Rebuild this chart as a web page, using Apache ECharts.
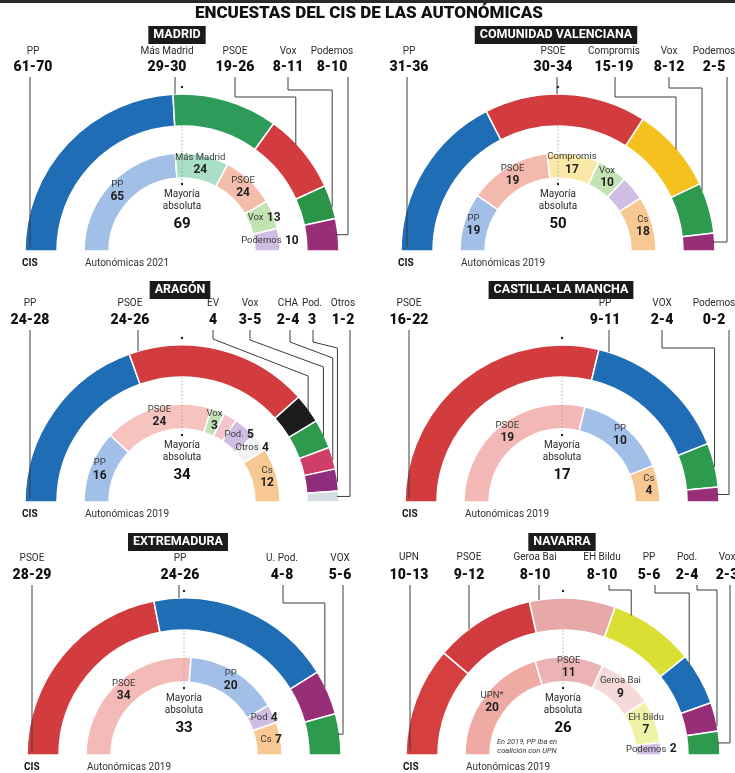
<!DOCTYPE html>
<html>
<head>
<meta charset="utf-8">
<script src="https://cdn.jsdelivr.net/npm/echarts@6/dist/echarts.min.js"></script>
<style>
  html, body { margin: 0; padding: 0; background: #fff; }
  #chart { width: 735px; height: 773px; }
</style>
</head>
<body>
<div id="chart"></div>
<script>
// ---- data ----
// Madrid
const madridParties = ['PP', 'Más Madrid', 'PSOE', 'Vox', 'Podemos'];
const madridLow = [61, 29, 19, 8, 8];
const madridHigh = [70, 30, 26, 11, 10];
const madridPrevParties = ['PP', 'Más Madrid', 'PSOE', 'Vox', 'Podemos'];
const madridPrevSeats = [65, 24, 24, 13, 10];
const madridMajority = 69;

// Comunidad Valenciana
const valenciaParties = ['PP', 'PSOE', 'Compromís', 'Vox', 'Podemos'];
const valenciaLow = [31, 30, 15, 8, 2];
const valenciaHigh = [36, 34, 19, 12, 5];
const valenciaPrevParties = ['PP', 'PSOE', 'Compromis', 'Vox', 'Pod.', 'Cs'];
const valenciaPrevSeats = [19, 27, 17, 10, 8, 18];
const valenciaPrevPrinted = [19, 19, 17, 10, 8, 18]; // PSOE label is printed as 19
const valenciaMajority = 50;

// Aragón
const aragonParties = ['PP', 'PSOE', 'EV', 'Vox', 'CHA', 'Pod.', 'Otros'];
const aragonLow = [24, 24, 4, 3, 2, 3, 1];
const aragonHigh = [28, 26, 4, 5, 4, 3, 2];
const aragonPrevParties = ['PP', 'PSOE', 'Vox', 'CHA', 'Pod.', 'Otros', 'Cs'];
const aragonPrevSeats = [16, 24, 3, 3, 5, 4, 12];
const aragonMajority = 34;

// Castilla-La Mancha
const clmParties = ['PSOE', 'PP', 'VOX', 'Podemos'];
const clmLow = [16, 9, 2, 0];
const clmHigh = [22, 11, 4, 2];
const clmPrevParties = ['PSOE', 'PP', 'Cs'];
const clmPrevSeats = [19, 10, 4];
const clmMajority = 17;

// Extremadura
const extParties = ['PSOE', 'PP', 'U. Pod.', 'VOX'];
const extLow = [28, 24, 4, 5];
const extHigh = [29, 26, 8, 6];
const extPrevParties = ['PSOE', 'PP', 'Pod', 'Cs'];
const extPrevSeats = [34, 20, 4, 7];
const extMajority = 33;

// Navarra
const navParties = ['UPN', 'PSOE', 'Geroa Bai', 'EH Bildu', 'PP', 'Pod.', 'Vox'];
const navLow = [10, 9, 8, 8, 5, 2, 2];
const navHigh = [13, 12, 10, 10, 6, 4, 3];
const navPrevParties = ['UPN*', 'PSOE', 'Geroa Bai', 'EH Bildu', 'Podemos'];
const navPrevSeats = [20, 11, 9, 7, 2];
const navMajority = 26;

// ---- layout and styles ----
const FONT = 'Roboto, "Noto Sans", sans-serif';
const LINE = '#3c3c3c';
const R_OUT = [125, 157];
const R_IN = [73, 98];

const BLUE = '#1f6db4', RED = '#d23c3f', GREEN = '#2d9a4e', PURPLE = '#982d78';
const L_BLUE = '#a2c0e7', L_GREEN = '#c2e3b3', L_PURPLE = '#d0bde3', L_ORANGE = '#f8c892';

const panels = [
  {
    title: 'MADRID', cx: 182, cy: 251, titleX: 177, titleY: 35, nameY: 51, rangeY: 67,
    parties: madridParties, low: madridLow, high: madridHigh,
    colors: [BLUE, '#2e9b5b', RED, '#2b9446', PURPLE],
    prevParties: madridPrevParties, prevSeats: madridPrevSeats, prevPrinted: madridPrevSeats,
    prevColors: [L_BLUE, '#a9dfc6', '#f4bcaa', L_GREEN, L_PURPLE],
    prevInline: [0, 0, 0, 1, 1],
    majority: madridMajority, prevLabel: 'Autonómicas 2021',
    labelX: [33, 167, 235, 288, 332],
    lineX: [30, 175, 235, 288, 348],
    modes: ['down', 'v', 'elbow', 'elbow', 'end'],
    elbow: [0, 0, 97, 90, 0],
    frac: [0.5, 0.5, 0.36, 0.6, 0.5]
  },
  {
    title: 'COMUNIDAD VALENCIANA', cx: 558, cy: 251, titleX: 556, titleY: 35, nameY: 51, rangeY: 67,
    parties: valenciaParties, low: valenciaLow, high: valenciaHigh,
    colors: [BLUE, RED, '#f5c11f', GREEN, PURPLE],
    prevParties: valenciaPrevParties, prevSeats: valenciaPrevSeats, prevPrinted: valenciaPrevPrinted,
    prevColors: [L_BLUE, '#f4b9ae', '#fbe8a6', L_GREEN, L_PURPLE, L_ORANGE],
    prevInline: [0, 0, 0, 0, 1, 0],
    majority: valenciaMajority, prevLabel: 'Autonómicas 2019',
    labelX: [409, 553, 614, 669, 714],
    lineX: [407, 557, 615, 669, 727],
    modes: ['down', 'v', 'elbow', 'elbow', 'end'],
    elbow: [0, 0, 97, 88, 0],
    frac: [0.5, 0.5, 0.5, 0.1, 0.5]
  },
  {
    title: 'ARAGÓN', cx: 182, cy: 502, titleX: 180, titleY: 290, nameY: 303, rangeY: 320,
    parties: aragonParties, low: aragonLow, high: aragonHigh,
    colors: [BLUE, RED, '#1c1c1c', GREEN, '#cf3e6b', '#8f2d7c', '#d6dce3'],
    prevParties: aragonPrevParties, prevSeats: aragonPrevSeats, prevPrinted: aragonPrevSeats,
    prevColors: [L_BLUE, '#f6c3bf', L_GREEN, '#f5c3cb', L_PURPLE, '#f1f3f5', L_ORANGE],
    prevInline: [0, 0, 0, 1, 1, 1, 0],
    majority: aragonMajority, prevLabel: 'Autonómicas 2019',
    labelX: [30, 130, 213, 250, 288, 312, 343],
    lineX: [30, 138, 213, 250, 290, 313, 350],
    modes: ['down', 'v', 'elbow', 'elbow', 'elbow', 'elbow', 'end'],
    elbow: [0, 0, [339, 376], [340, 367], [342, 358], [342, 348], 0],
    frac: [0.5, 0.5, 0.5, 0.5, 0.5, 0.5, 0.5]
  },
  {
    title: 'CASTILLA-LA MANCHA', cx: 562, cy: 502, titleX: 561, titleY: 290, nameY: 303, rangeY: 320,
    parties: clmParties, low: clmLow, high: clmHigh,
    colors: [RED, BLUE, GREEN, PURPLE],
    prevParties: clmPrevParties, prevSeats: clmPrevSeats, prevPrinted: clmPrevSeats,
    prevColors: ['#f3b8b5', L_BLUE, L_ORANGE],
    prevInline: [0, 0, 0],
    majority: clmMajority, prevLabel: 'Autonómicas 2019',
    labelX: [409, 605, 662, 714],
    lineX: [409, 609, 662, 729],
    modes: ['down', 'v', 'elbow', 'end'],
    elbow: [0, 0, 348, 0],
    frac: [0.5, 0.5, 0.5, 0.5]
  },
  {
    title: 'EXTREMADURA', cx: 184, cy: 755, titleX: 178, titleY: 542, nameY: 558, rangeY: 575,
    parties: extParties, low: extLow, high: extHigh,
    colors: [RED, BLUE, PURPLE, GREEN],
    prevParties: extPrevParties, prevSeats: extPrevSeats, prevPrinted: extPrevSeats,
    prevColors: ['#f3bab7', L_BLUE, L_PURPLE, L_ORANGE],
    prevInline: [0, 0, 1, 1],
    majority: extMajority, prevLabel: 'Autonómicas 2019',
    labelX: [32, 180, 282, 340],
    lineX: [32, 179, 283, 343],
    modes: ['down', 'v', 'elbow', 'end'],
    elbow: [0, 0, 603, 0],
    frac: [0.5, 0.5, 0.34, 0.5]
  },
  {
    title: 'NAVARRA', cx: 563, cy: 755, titleX: 562, titleY: 542, nameY: 557, rangeY: 575,
    parties: navParties, low: navLow, high: navHigh,
    colors: ['#d63f40', '#cf3b3e', '#e7a8a8', '#dadf33', BLUE, PURPLE, GREEN],
    prevParties: navPrevParties, prevSeats: navPrevSeats, prevPrinted: navPrevSeats,
    prevColors: ['#f0aaa4', '#ebb3b3', '#f6d9d9', '#eef3a8', L_PURPLE],
    prevInline: [0, 0, 0, 0, 1],
    majority: navMajority, prevLabel: 'Autonómicas 2019',
    labelX: [409, 469, 535, 602, 649, 687, 727],
    lineX: [410, 469, 539, 609, 655, 697, 730],
    modes: ['down', 'v', 'v', 'elbow', 'elbow', 'elbow', 'end'],
    elbow: [0, 0, 0, 590, 593, 590, 0],
    frac: [0.5, 0.5, 0.5, 0.2, 0.12, 0.77, 0.5],
    note: ['En 2019, PP iba en', 'coalición con UPN']
  }
];

const chart = echarts.init(document.getElementById('chart'));
const series = [];
const graphics = [];

function rangeText(lo, hi) {
  return lo === hi ? String(lo) : lo + '-' + hi;
}

// point on the outer edge of the outer ring, part way through segment i
function arcPoint(p, values, i, frac) {
  const sum = values.reduce((a, b) => a + b, 0);
  let cum = 0;
  for (let k = 0; k < i; k++) cum += values[k];
  const fromLeft = 180 * (cum + values[i] * frac) / sum;
  const th = (180 - fromLeft) * Math.PI / 180;
  return [p.cx + R_OUT[1] * Math.cos(th), p.cy - R_OUT[1] * Math.sin(th)];
}

function text(x, y, str, font, color, align, extra) {
  graphics.push(Object.assign({
    type: 'text', silent: true, z: 20,
    style: {
      x: x, y: y, text: str, font: font, fill: color || '#222',
      align: align || 'center', verticalAlign: 'middle',
      textAlign: align || 'center', textVerticalAlign: 'middle'
    }
  }, extra || {}));
}

panels.forEach(p => {
  // CIS poll: midpoint of each range
  const mids = p.low.map((lo, i) => (lo + p.high[i]) / 2);

  series.push({
    type: 'pie', center: [p.cx, p.cy], radius: R_OUT,
    startAngle: 180, endAngle: 0, clockwise: true,
    silent: true, animation: false,
    label: { show: false }, labelLine: { show: false },
    itemStyle: { borderColor: '#fff', borderWidth: 1.5 },
    data: p.parties.map((name, i) => ({ name: name, value: mids[i], itemStyle: { color: p.colors[i] } }))
  });

  series.push({
    type: 'pie', center: [p.cx, p.cy], radius: R_IN,
    startAngle: 180, endAngle: 0, clockwise: true,
    silent: true, animation: false,
    labelLine: { show: false },
    itemStyle: { borderColor: '#fff', borderWidth: 1.5 },
    label: {
      show: true, position: 'inside', color: '#222', textBorderWidth: 0,
      lineHeight: 12,
      formatter: prm => {
        const d = prm.data;
        return d.inline ? '{n|' + d.name + '} {v|' + d.printed + '}' : '{n|' + d.name + '}\n{v|' + d.printed + '}';
      },
      rich: {
        n: { fontSize: 9.5, color: '#3a3a3a', fontFamily: FONT, lineHeight: 12 },
        v: { fontSize: 12, fontWeight: 'bold', color: '#222', fontFamily: FONT, lineHeight: 13 }
      }
    },
    data: p.prevParties.map((name, i) => ({
      name: name, value: p.prevSeats[i], printed: p.prevPrinted[i], inline: p.prevInline[i],
      itemStyle: { color: p.prevColors[i] }
    }))
  });

  // region name box
  text(p.titleX, p.titleY, p.title, 'bold 12px ' + FONT, '#fff', 'center', {
    style: {
      x: p.titleX, y: p.titleY, text: p.title, font: 'bold 12.5px ' + FONT, fill: '#fff',
      align: 'center', verticalAlign: 'middle', textAlign: 'center', textVerticalAlign: 'middle',
      backgroundColor: '#1b1b1b', padding: [3, 5, 2, 5]
    }
  });

  // party names, ranges and leader lines
  p.parties.forEach((name, i) => {
    text(p.labelX[i], p.nameY, name, '10px ' + FONT, '#2a2a2a');
    text(p.labelX[i], p.rangeY, rangeText(p.low[i], p.high[i]), '900 14px ' + FONT, '#111');

    const lx = p.lineX[i];
    const y0 = p.rangeY + 10;
    const R = R_OUT[1];
    let pts;
    if (p.modes[i] === 'down') {
      pts = [[lx, y0], [lx, p.cy - 4]];
    } else if (p.modes[i] === 'v') {
      const dx = lx - p.cx;
      pts = [[lx, y0], [lx, p.cy - Math.sqrt(R * R - dx * dx)]];
    } else {
      const a = arcPoint(p, mids, i, p.frac[i]);
      if (p.modes[i] === 'end') {
        pts = [[lx, y0], [lx, a[1]], [a[0] - 2, a[1]]];
      } else {
        const e = p.elbow[i];
        const e1 = Array.isArray(e) ? e[0] : e;
        const e2 = Array.isArray(e) ? e[1] : e;
        pts = [[lx, y0], [lx, e1], [a[0], e2], [a[0], a[1] + 2]];
      }
    }
    graphics.push({
      type: 'polyline', silent: true, z: 15,
      shape: { points: pts },
      style: { stroke: LINE, lineWidth: 1, fill: null }
    });
  });

  // majority marker
  graphics.push({
    type: 'circle', silent: true, z: 15,
    shape: { cx: p.cx, cy: p.cy - 164, r: 1.2 }, style: { fill: '#222' }
  });
  graphics.push({
    type: 'line', silent: true, z: 15,
    shape: { x1: p.cx, y1: p.cy - R_OUT[0], x2: p.cx, y2: p.cy - 70 },
    style: { stroke: '#9a9a9a', lineWidth: 0.8, lineDash: [1.5, 2] }
  });
  graphics.push({
    type: 'circle', silent: true, z: 15,
    shape: { cx: p.cx, cy: p.cy - 67, r: 1.2 }, style: { fill: '#222' }
  });
  text(p.cx, p.cy - 57, 'Mayoría', '10px ' + FONT, '#2a2a2a');
  text(p.cx, p.cy - 45, 'absoluta', '10px ' + FONT, '#2a2a2a');
  text(p.cx, p.cy - 27, String(p.majority), 'bold 15px ' + FONT, '#111');

  // bottom captions
  text(p.cx - 160, p.cy + 12, 'CIS', 'bold 10px ' + FONT, '#111', 'left');
  text(p.cx - 97, p.cy + 12, p.prevLabel, '10px ' + FONT, '#333', 'left');

  if (p.note) {
    text(p.cx - 36, p.cy - 13, p.note[0], 'italic 7.5px ' + FONT, '#333');
    text(p.cx - 36, p.cy - 4, p.note[1], 'italic 7.5px ' + FONT, '#333');
  }
});

// page header
graphics.push({
  type: 'rect', silent: true, z: 20,
  shape: { x: 0, y: 0, width: 735, height: 3 }, style: { fill: '#2a2a2a' }
});
text(369, 14, 'ENCUESTAS DEL CIS DE LAS AUTONÓMICAS', '900 17px ' + FONT, '#111');

chart.setOption({
  animation: false,
  backgroundColor: '#fff',
  series: series,
  graphic: { elements: graphics }
});
</script>
</body>
</html>
